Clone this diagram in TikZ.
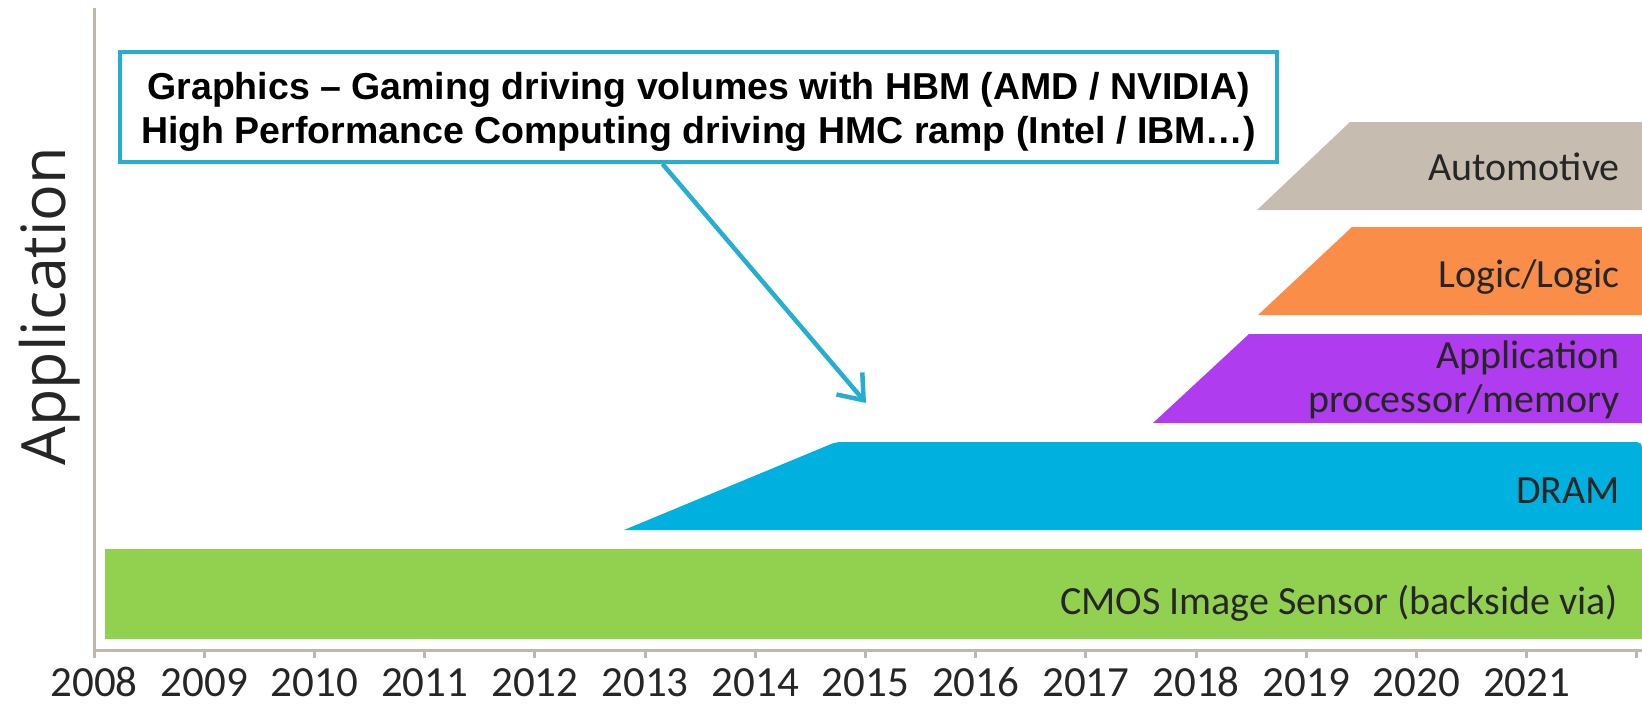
\documentclass[tikz,border=0pt]{standalone}
\usepackage{fontspec}
\setmainfont{Liberation Sans}
\newfontfamily\calfont{Carlito}
\newfontfamily\axfont{Open Sans}
\usetikzlibrary{arrows.meta,calc}

\definecolor{axisgray}{HTML}{BFB7AC}
\definecolor{calloutblue}{HTML}{25AED0}
\definecolor{autotan}{HTML}{C6BCB0}
\definecolor{logicorange}{HTML}{FA8E48}
\definecolor{appviolet}{HTML}{B03CF0}
\definecolor{dramcyan}{HTML}{00B1DF}
\definecolor{cmosgreen}{HTML}{92D050}
\definecolor{labelink}{HTML}{262626}

\tikzset{
  band/.style={line join=round},
  bandlabel/.style={anchor=base east, inner sep=0pt, text=labelink,
    font=\calfont\fontsize{40}{44}\selectfont, align=right},
  yearlabel/.style={anchor=base, inner sep=0pt, text=labelink,
    font=\calfont\fontsize{43}{43}\selectfont},
  axisline/.style={draw=axisgray, line width=3pt},
  calloutframe/.style={draw=calloutblue, line width=4pt, fill=white,
    minimum width=1157pt, minimum height=110pt, inner sep=0pt},
  callouttext/.style={align=center, inner sep=0pt,
    font=\fontsize{37.5}{44}\selectfont\bfseries},
  pointer/.style={draw=calloutblue, line width=4.5pt,
    -{Straight Barb[length=22pt, width=34pt, line width=4.5pt]}},
}

\begin{document}
\begin{tikzpicture}[x=1pt, y=-1pt]
\useasboundingbox (0,0) rectangle (1642,704);

% axes and year ticks
\draw[axisline] (94,8) -- (94,658);
\draw[axisline] (94,650) -- (1642,650);
\foreach \i in {1,...,14}
  \draw[axisline] ({94+110.2*\i},650) -- ({94+110.2*\i},658);
\foreach \yr [count=\i from 0] in {2008,...,2021}
  \node[yearlabel] (yr\yr) at ({94+110.2*\i},696) {\yr};

% axis title
\node[rotate=90, anchor=base, inner sep=0pt, text=labelink,
  font=\axfont\fontsize{61}{61}\selectfont] (ytitle) at (65,306) {Application};

% technology bands
\fill[band, cmosgreen] (105,549) rectangle (1642,639);
\fill[band, dramcyan, rounded corners=5pt]
  (624,530) -- (836,442) -- (1642,442) [sharp corners] -- (1642,530) -- cycle;
\fill[band, appviolet] (1153,423) -- (1249,334) -- (1642,334) -- (1642,423) -- cycle;
\fill[band, logicorange] (1258,315) -- (1352,227) -- (1642,227) -- (1642,315) -- cycle;
\fill[band, autotan] (1257,210) -- (1350,122) -- (1642,122) -- (1642,210) -- cycle;

\node[bandlabel] (auto) at (1620,180) {Automotive};
\node[bandlabel] (logic) at (1620,287) {Logic/Logic};
% a two-line label sits on the baseline of its last line
\node[bandlabel] (app) at (1620,412) {Application\\processor/memory};
\node[bandlabel] (dram) at (1620,503) {DRAM};
\node[bandlabel] (cmos) at (1618,614) {CMOS Image Sensor (backside via)};

% callout
\node[calloutframe] (frame) at (698.5,107) {};
\node[callouttext] (note) at (698.5,112)
  {Graphics -- Gaming driving volumes with HBM (AMD / NVIDIA)\\
   High Performance Computing driving HMC ramp (Intel / IBM\dots)};
\coordinate (target) at (866,403);
\draw[pointer] ($(frame.south west)!0.469!(frame.south east)$) -- (target);
\end{tikzpicture}
\end{document}
